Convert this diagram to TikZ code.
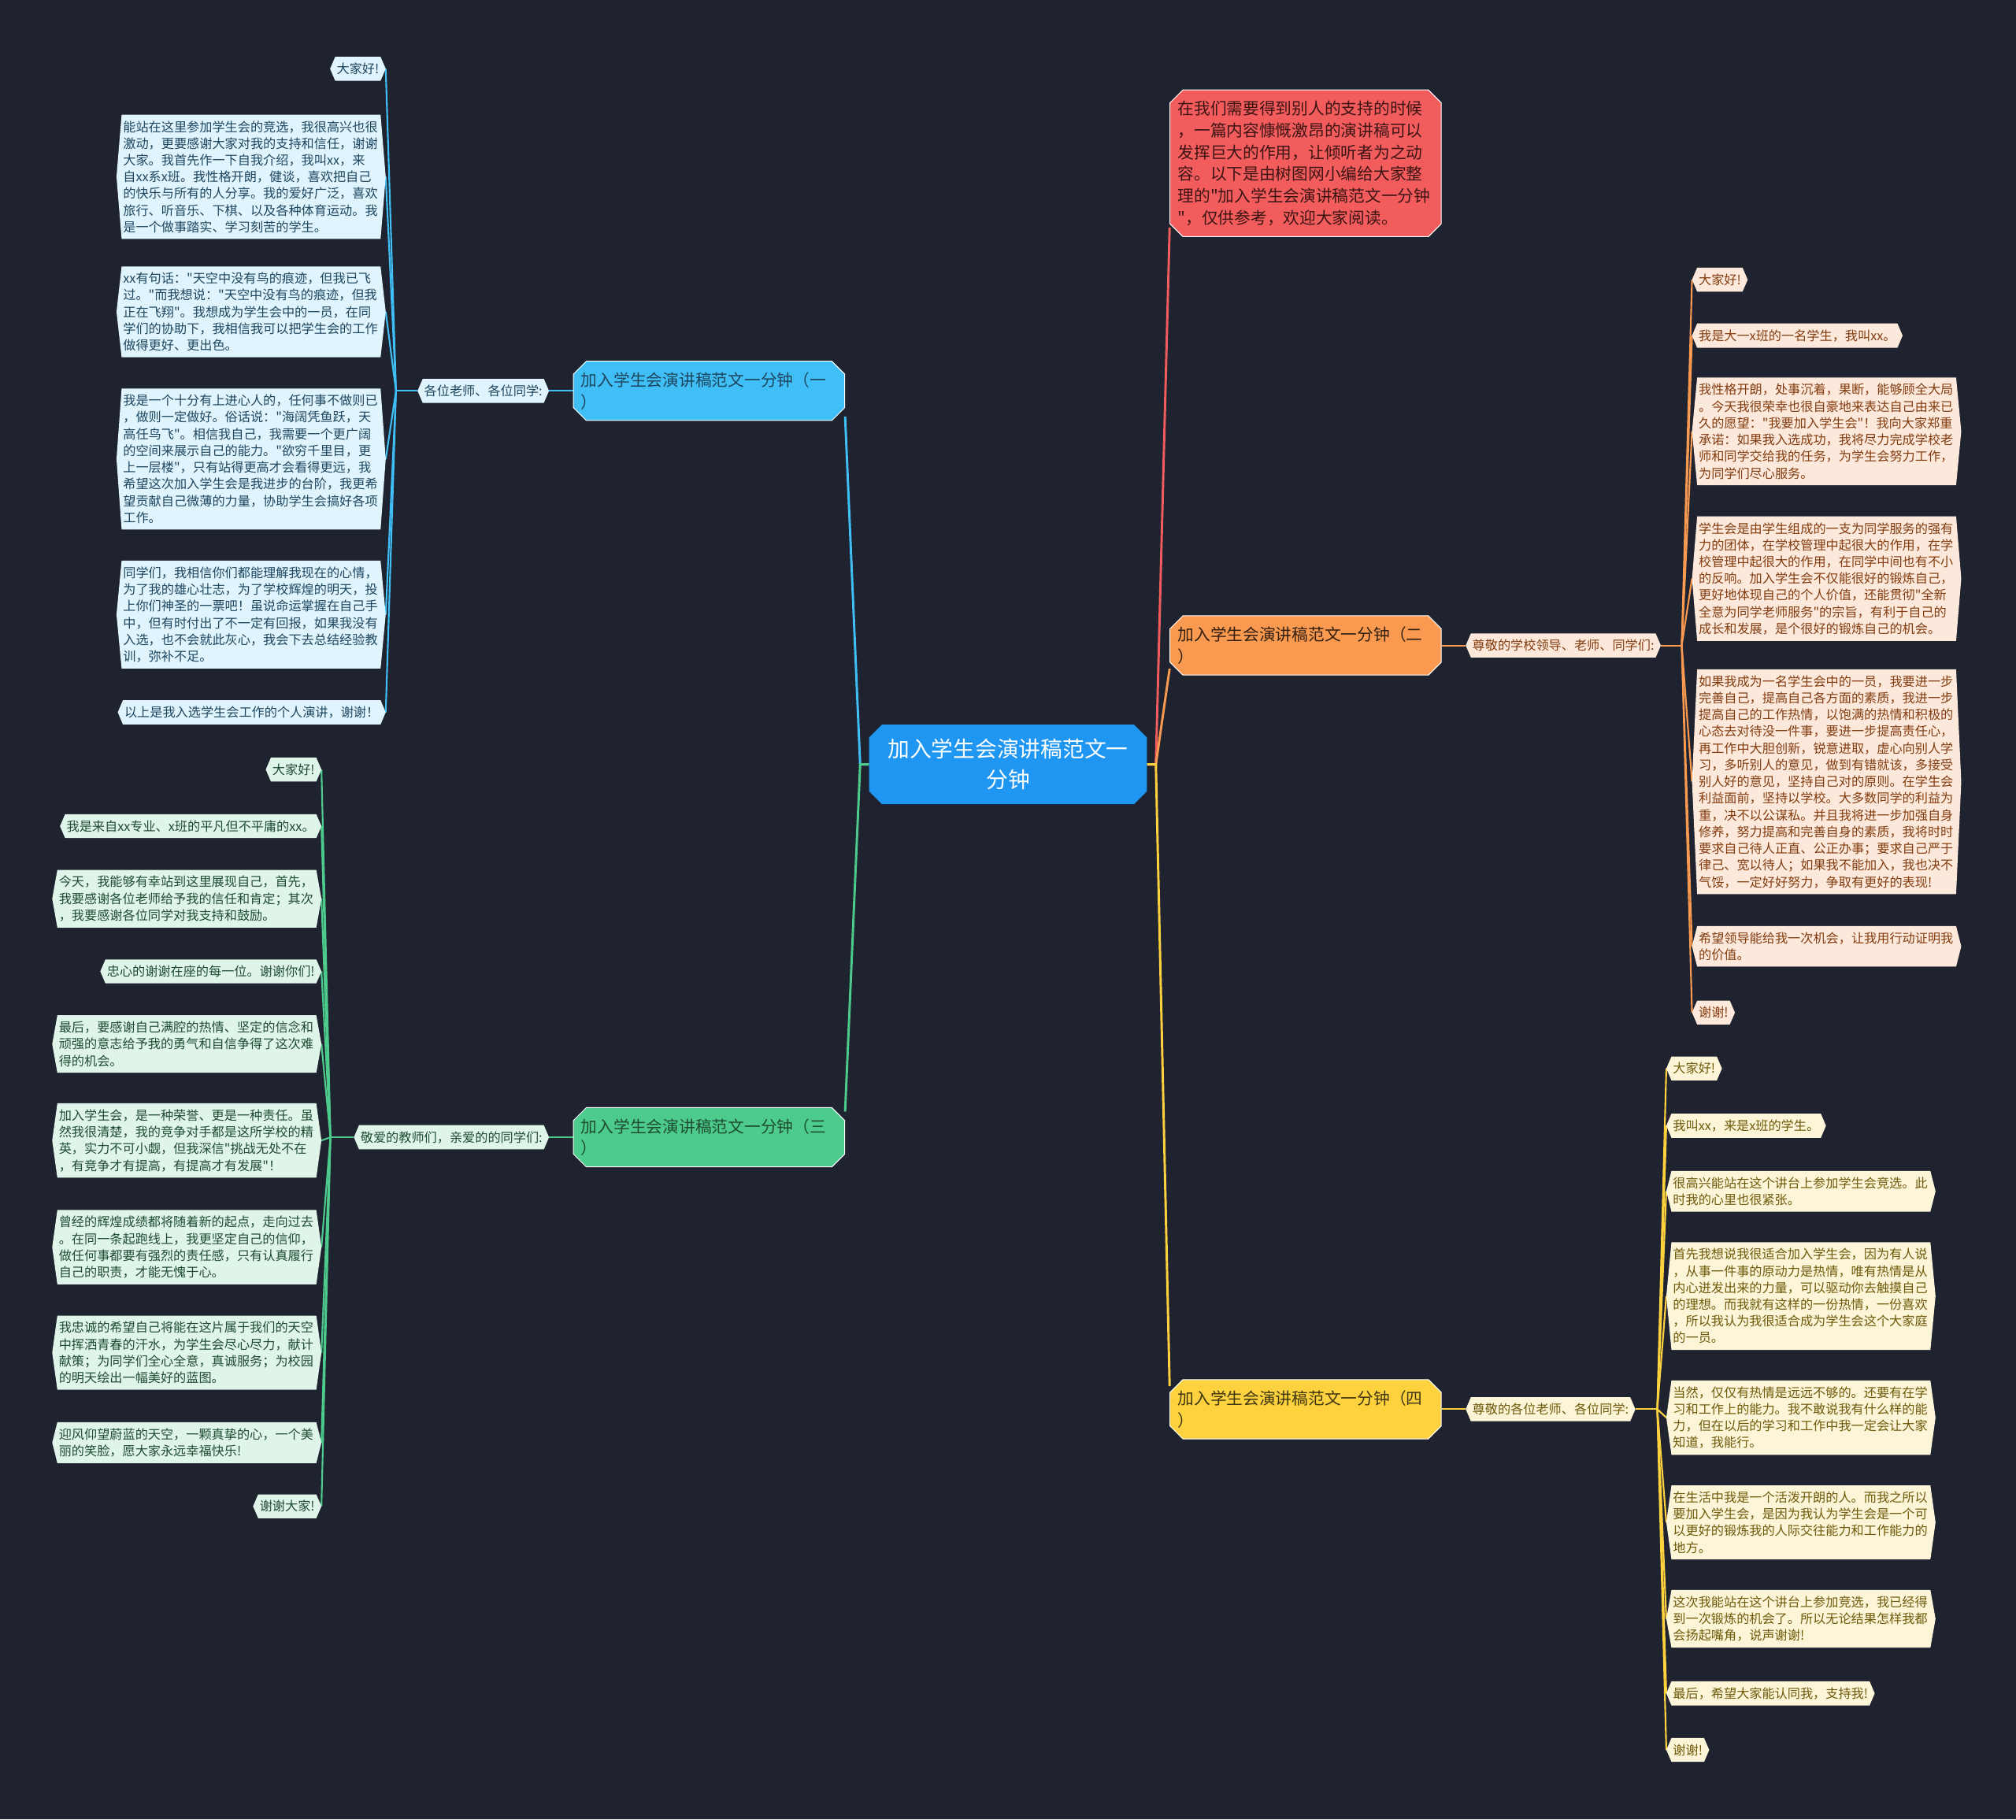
\documentclass[tikz,border=0pt]{standalone}
\usepackage{fontspec}
\setmainfont{Noto Sans CJK SC}[Ligatures=TeXOff]
\usetikzlibrary{shapes.misc,calc}
\pgfdeclarelayer{bgfill}
\pgfdeclarelayer{lines}
\pgfdeclarelayer{background}
\pgfsetlayers{bgfill,lines,background,main}
\definecolor{bg}{RGB}{31,35,47}
\definecolor{ctrc}{RGB}{30,150,242}
\definecolor{bluec}{RGB}{64,190,246}
\definecolor{bluel}{RGB}{223,244,253}
\definecolor{bluet}{RGB}{30,70,95}
\definecolor{greenc}{RGB}{77,203,140}
\definecolor{greenl}{RGB}{224,245,234}
\definecolor{greent}{RGB}{30,75,50}
\definecolor{redc}{RGB}{242,92,92}
\definecolor{redt}{RGB}{60,20,20}
\definecolor{orangec}{RGB}{250,154,80}
\definecolor{orangel}{RGB}{253,233,220}
\definecolor{oranget}{RGB}{130,60,15}
\definecolor{yellowc}{RGB}{253,210,62}
\definecolor{yellowl}{RGB}{253,245,216}
\definecolor{yellowt}{RGB}{110,90,10}
\tikzset{
  leaf/.style={inner xsep=1pt, inner ysep=4.5pt, align=left, font=\fontsize{9.9}{13}\selectfont},
  wide/.style={text width=199pt},
  branchbox/.style={chamfered rectangle, chamfered rectangle xsep=5pt, chamfered rectangle ysep=5pt,
    draw=white, line width=0.6pt, text width=199pt, inner xsep=1pt, inner ysep=3.5pt, align=left,
    font=\fontsize{12.7}{17}\selectfont},
  conn/.style={line width=1.8pt},
  sub/.style={line width=1.3pt},
}
\begin{document}
\begin{tikzpicture}[x=1pt,y=-1pt]
\useasboundingbox (0,0) rectangle (1568,1415);
\begin{pgfonlayer}{bgfill}
\fill[bg] (0,0) rectangle (1568,1415);
\end{pgfonlayer}

% center
\node[chamfered rectangle, chamfered rectangle xsep=5pt, chamfered rectangle ysep=5pt, fill=ctrc,
  minimum width=206pt, text width=196pt, inner xsep=5pt, inner ysep=6pt, align=center,
  text=white, font=\fontsize{17}{24}\selectfont] (ctr) at (784,594.5) {加入学生会演讲稿范文一\\分钟};

% branches
\node[branchbox, fill=bluec, text=bluet] (br1) at (551.5,304) {加入学生会演讲稿范文一分钟（一\\）};
\node[branchbox, fill=greenc, text=greent] (br3) at (551.5,884.5) {加入学生会演讲稿范文一分钟（三\\）};
\node[branchbox, fill=orangec, text=black!80!orangec] (br2) at (1015.5,502) {加入学生会演讲稿范文一分钟（二\\）};
\node[branchbox, fill=yellowc, text=black!75!yellowc] (br4) at (1015.5,1096) {加入学生会演讲稿范文一分钟（四\\）};
\node[branchbox, fill=redc, text=redt] (intro) at (1015.5,127) {在我们需要得到别人的支持的时候\\，一篇内容慷慨激昂的演讲稿可以\\发挥巨大的作用，让倾听者为之动\\容。以下是由树图网小编给大家整\\理的"加入学生会演讲稿范文一分钟\\"，仅供参考，欢迎大家阅读。};

% labels
\node[leaf, text=bluet, anchor=east] (l1) at (423,304) {各位老师、各位同学:};
\node[leaf, text=greent, anchor=east] (l3) at (423,884.5) {敬爱的教师们，亲爱的的同学们:};
\node[leaf, text=oranget, anchor=west] (l2) at (1144,502) {尊敬的学校领导、老师、同学们:};
\node[leaf, text=yellowt, anchor=west] (l4) at (1144,1096) {尊敬的各位老师、各位同学:};

% blue leaves
\begin{scope}[every node/.append style={leaf, text=bluet, anchor=east}]
\node (a1) at (296,53.5) {大家好!};
\node[wide] (a2) at (296,137.5) {能站在这里参加学生会的竞选，我很高兴也很\\激动，更要感谢大家对我的支持和信任，谢谢\\大家。我首先作一下自我介绍，我叫xx，来\\自xx系x班。我性格开朗，健谈，喜欢把自己\\的快乐与所有的人分享。我的爱好广泛，喜欢\\旅行、听音乐、下棋、以及各种体育运动。我\\是一个做事踏实、学习刻苦的学生。};
\node[wide] (a3) at (296,242.5) {xx有句话："天空中没有鸟的痕迹，但我已飞\\过。"而我想说："天空中没有鸟的痕迹，但我\\正在飞翔"。我想成为学生会中的一员，在同\\学们的协助下，我相信我可以把学生会的工作\\做得更好、更出色。};
\node[wide] (a4) at (296,357) {我是一个十分有上进心人的，任何事不做则已\\，做则一定做好。俗话说："海阔凭鱼跃，天\\高任鸟飞"。相信我自己，我需要一个更广阔\\的空间来展示自己的能力。"欲穷千里目，更\\上一层楼"，只有站得更高才会看得更远，我\\希望这次加入学生会是我进步的台阶，我更希\\望贡献自己微薄的力量，协助学生会搞好各项\\工作。};
\node[wide] (a5) at (296,478) {同学们，我相信你们都能理解我现在的心情，\\为了我的雄心壮志，为了学校辉煌的明天，投\\上你们神圣的一票吧！虽说命运掌握在自己手\\中，但有时付出了不一定有回报，如果我没有\\入选，也不会就此灰心，我会下去总结经验教\\训，弥补不足。};
\node (a6) at (296,554) {以上是我入选学生会工作的个人演讲，谢谢！};
\end{scope}

% green leaves
\begin{scope}[every node/.append style={leaf, text=greent, anchor=east}]
\node (g1) at (246,598.5) {大家好!};
\node (g2) at (246,642.5) {我是来自xx专业、x班的平凡但不平庸的xx。};
\node[wide] (g3) at (246,699) {今天，我能够有幸站到这里展现自己，首先，\\我要感谢各位老师给予我的信任和肯定；其次\\，我要感谢各位同学对我支持和鼓励。};
\node (g4) at (246,755.5) {忠心的谢谢在座的每一位。谢谢你们!};
\node[wide] (g5) at (246,812) {最后，要感谢自己满腔的热情、坚定的信念和\\顽强的意志给予我的勇气和自信争得了这次难\\得的机会。};
\node[wide] (g6) at (246,887) {加入学生会，是一种荣誉、更是一种责任。虽\\然我很清楚，我的竞争对手都是这所学校的精\\英，实力不可小觑，但我深信"挑战无处不在\\，有竞争才有提高，有提高才有发展"！};
\node[wide] (g7) at (246,970) {曾经的辉煌成绩都将随着新的起点，走向过去\\。在同一条起跑线上，我更坚定自己的信仰，\\做任何事都要有强烈的责任感，只有认真履行\\自己的职责，才能无愧于心。};
\node[wide] (g8) at (246,1052) {我忠诚的希望自己将能在这片属于我们的天空\\中挥洒青春的汗水，为学生会尽心尽力，献计\\献策；为同学们全心全意，真诚服务；为校园\\的明天绘出一幅美好的蓝图。};
\node[wide] (g9) at (246,1122) {迎风仰望蔚蓝的天空，一颗真挚的心，一个美\\丽的笑脸，愿大家永远幸福快乐!};
\node (g10) at (246,1171.5) {谢谢大家!};
\end{scope}

% orange leaves
\begin{scope}[every node/.append style={leaf, text=oranget, anchor=west}]
\node (o1) at (1320,217.5) {大家好!};
\node (o2) at (1320,261) {我是大一x班的一名学生，我叫xx。};
\node[wide] (o3) at (1320,335.5) {我性格开朗，处事沉着，果断，能够顾全大局\\。今天我很荣幸也很自豪地来表达自己由来已\\久的愿望："我要加入学生会"！我向大家郑重\\承诺：如果我入选成功，我将尽力完成学校老\\师和同学交给我的任务，为学生会努力工作，\\为同学们尽心服务。};
\node[wide] (o4) at (1320,450) {学生会是由学生组成的一支为同学服务的强有\\力的团体，在学校管理中起很大的作用，在学\\校管理中起很大的作用，在同学中间也有不小\\的反响。加入学生会不仅能很好的锻炼自己，\\更好地体现自己的个人价值，还能贯彻"全新\\全意为同学老师服务"的宗旨，有利于自己的\\成长和发展，是个很好的锻炼自己的机会。};
\node[wide] (o5) at (1320,608) {如果我成为一名学生会中的一员，我要进一步\\完善自己，提高自己各方面的素质，我进一步\\提高自己的工作热情，以饱满的热情和积极的\\心态去对待没一件事，要进一步提高责任心，\\再工作中大胆创新，锐意进取，虚心向别人学\\习，多听别人的意见，做到有错就该，多接受\\别人好的意见，坚持自己对的原则。在学生会\\利益面前，坚持以学校。大多数同学的利益为\\重，决不以公谋私。并且我将进一步加强自身\\修养，努力提高和完善自身的素质，我将时时\\要求自己待人正直、公正办事；要求自己严于\\律己、宽以待人；如果我不能加入，我也决不\\气馁，一定好好努力，争取有更好的表现!};
\node[wide] (o6) at (1320,736) {希望领导能给我一次机会，让我用行动证明我\\的价值。};
\node (o7) at (1320,787.5) {谢谢!};
\end{scope}

% yellow leaves
\begin{scope}[every node/.append style={leaf, text=yellowt, anchor=west}]
\node (y1) at (1300,831) {大家好!};
\node (y2) at (1300,875.5) {我叫xx，来是x班的学生。};
\node[wide] (y3) at (1300,926.5) {很高兴能站在这个讲台上参加学生会竞选。此\\时我的心里也很紧张。};
\node[wide] (y4) at (1300,1008) {首先我想说我很适合加入学生会，因为有人说\\，从事一件事的原动力是热情，唯有热情是从\\内心迸发出来的力量，可以驱动你去触摸自己\\的理想。而我就有这样的一份热情，一份喜欢\\，所以我认为我很适合成为学生会这个大家庭\\的一员。};
\node[wide] (y5) at (1300,1102.5) {当然，仅仅有热情是远远不够的。还要有在学\\习和工作上的能力。我不敢说我有什么样的能\\力，但在以后的学习和工作中我一定会让大家\\知道，我能行。};
\node[wide] (y6) at (1300,1184) {在生活中我是一个活泼开朗的人。而我之所以\\要加入学生会，是因为我认为学生会是一个可\\以更好的锻炼我的人际交往能力和工作能力的\\地方。};
\node[wide] (y7) at (1300,1259) {这次我能站在这个讲台上参加竞选，我已经得\\到一次锻炼的机会了。所以无论结果怎样我都\\会扬起嘴角，说声谢谢!};
\node (y8) at (1300,1317) {最后，希望大家能认同我，支持我!};
\node (y9) at (1300,1361) {谢谢!};
\end{scope}

% hexagon backgrounds
\begin{pgfonlayer}{background}
\foreach \n in {l1,a1,a2,a3,a4,a5,a6}
  \fill[bluel] (\n.north west) -- (\n.north east) -- ($(\n.east)+(4,0)$) -- (\n.south east) -- (\n.south west) -- ($(\n.west)+(-4,0)$) -- cycle;
\foreach \n in {l3,g1,g2,g3,g4,g5,g6,g7,g8,g9,g10}
  \fill[greenl] (\n.north west) -- (\n.north east) -- ($(\n.east)+(4,0)$) -- (\n.south east) -- (\n.south west) -- ($(\n.west)+(-4,0)$) -- cycle;
\foreach \n in {l2,o1,o2,o3,o4,o5,o6,o7}
  \fill[orangel] (\n.north west) -- (\n.north east) -- ($(\n.east)+(4,0)$) -- (\n.south east) -- (\n.south west) -- ($(\n.west)+(-4,0)$) -- cycle;
\foreach \n in {l4,y1,y2,y3,y4,y5,y6,y7,y8,y9}
  \fill[yellowl] (\n.north west) -- (\n.north east) -- ($(\n.east)+(4,0)$) -- (\n.south east) -- (\n.south west) -- ($(\n.west)+(-4,0)$) -- cycle;
\end{pgfonlayer}

% connectors
\begin{pgfonlayer}{lines}
\coordinate (cl) at (669,594.5);
\coordinate (cr) at (899,594.5);
\coordinate (f1) at (308,304);
\coordinate (f3) at (257,884.5);
\coordinate (f2) at (1308,502);
\coordinate (f4) at (1289,1096);
\draw[conn, bluec] (ctr.west) -- (cl) -- ($(br1.east)+(0,20)$);
\draw[conn, greenc] (ctr.west) -- (cl) -- ($(br3.east)+(0,-20)$);
\draw[conn, redc] (ctr.east) -- (cr) -- ($(intro.west)+(0,50)$);
\draw[conn, orangec] (ctr.east) -- (cr) -- ($(br2.west)+(0,18)$);
\draw[conn, yellowc] (ctr.east) -- (cr) -- ($(br4.west)+(0,-18)$);
\draw[sub, bluec] (br1.west) -- ($(l1.east)+(4,0)$);
\draw[sub, greenc] (br3.west) -- ($(l3.east)+(4,0)$);
\draw[sub, orangec] (br2.east) -- ($(l2.west)+(-4,0)$);
\draw[sub, yellowc] (br4.east) -- ($(l4.west)+(-4,0)$);
\draw[sub, bluec] ($(l1.west)+(-4,0)$) -- (f1);
\draw[sub, greenc] ($(l3.west)+(-4,0)$) -- (f3);
\draw[sub, orangec] ($(l2.east)+(4,0)$) -- (f2);
\draw[sub, yellowc] ($(l4.east)+(4,0)$) -- (f4);
\foreach \n in {a1,a2,a3,a4,a5,a6} \draw[sub, bluec] (f1) -- ($(\n.east)+(4,0)$);
\foreach \n in {g1,g2,g3,g4,g5,g6,g7,g8,g9,g10} \draw[sub, greenc] (f3) -- ($(\n.east)+(4,0)$);
\foreach \n in {o1,o2,o3,o4,o5,o6,o7} \draw[sub, orangec] (f2) -- ($(\n.west)+(-4,0)$);
\foreach \n in {y1,y2,y3,y4,y5,y6,y7,y8,y9} \draw[sub, yellowc] (f4) -- ($(\n.west)+(-4,0)$);
\end{pgfonlayer}
\end{tikzpicture}
\end{document}
